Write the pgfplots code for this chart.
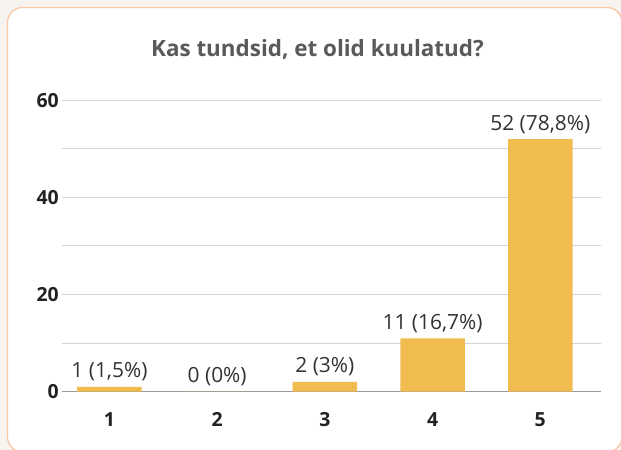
\documentclass[border=0pt]{standalone}
\usepackage{fontspec}
\setmainfont{Open Sans}
\usepackage{pgfplots}
\pgfplotsset{compat=1.18}
\definecolor{barc}{HTML}{F0BB4F}
\definecolor{gridc}{HTML}{D3D3D3}
\definecolor{zeroc}{HTML}{9A9A9A}
\definecolor{pagebg}{HTML}{F7F3EF}
\definecolor{cardline}{HTML}{F8C8A6}
\definecolor{titlec}{HTML}{5A5A5A}
\definecolor{tickc}{HTML}{222222}
\definecolor{labc}{HTML}{333333}
\begin{document}
\begin{tikzpicture}[x=1bp,y=1bp]
\useasboundingbox (0,0) rectangle (621,450);
\begin{scope}
\clip (0,0) rectangle (621,450);
\fill[pagebg] (0,0) rectangle (621,450);
\draw[cardline, line width=1.3bp, fill=white, rounded corners=15bp] (7.5,-2) rectangle (622,442.5);
\end{scope}
\node[font=\bfseries\fontsize{22.5}{26}\selectfont, text=titlec, anchor=base] at (317.5,393.3) {Kas tundsid, et olid kuulatud?};
\begin{axis}[
  at={(62.3bp,58.3bp)}, anchor=south west, scale only axis,
  width=538.4bp, height=291.4bp,
  xmin=0.562, xmax=5.561, ymin=0, ymax=60,
  axis x line*=bottom, axis y line*=left,
  y axis line style={draw=none},
  x axis line style={draw=zeroc, line width=1bp},
  major tick length=0pt, minor tick length=0pt,
  tick style={draw=none},
  xtick={1,2,3,4,5},
  ytick={0,20,40,60},
  minor ytick={10,30,50},
  ymajorgrids, yminorgrids,
  major grid style={draw=gridc, line width=1bp},
  minor grid style={draw=gridc, line width=1bp},
  /pgf/number format/assume math mode=true,
  tick label style={font=\bfseries\fontsize{19.5}{22}\selectfont, text=tickc},
  xticklabel style={anchor=base, yshift=-35bp},
  ybar, bar width=64.5bp,
  nodes near coords,
  point meta=explicit symbolic,
  every node near coord/.append style={font=\fontsize{21}{24}\selectfont, text=labc, anchor=base, inner sep=0pt, yshift=9bp},
  clip=false,
]
\addplot[fill=barc, draw=none] coordinates {
  (1,1) [1 (1,5\%)]
  (2,0) [0 (0\%)]
  (3,2) [2 (3\%)]
  (4,11) [11 (16,7\%)]
  (5,52) [52 (78,8\%)]
};
\end{axis}
\end{tikzpicture}
\end{document}
